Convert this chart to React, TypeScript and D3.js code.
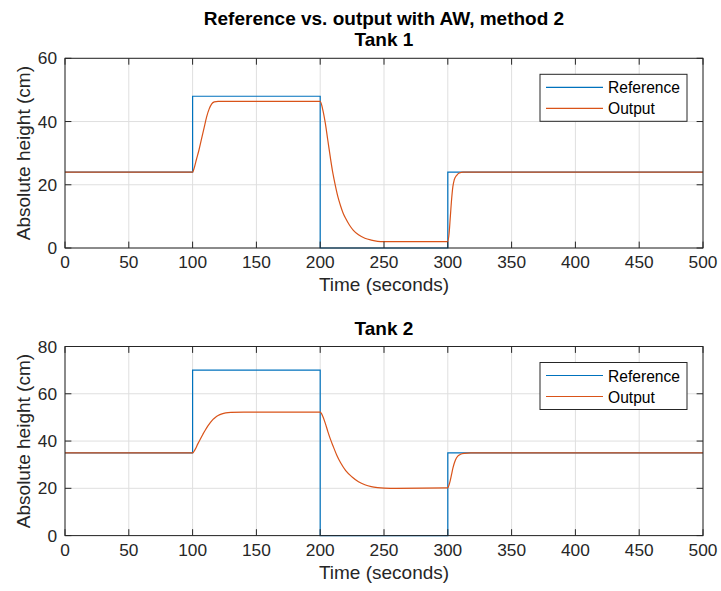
import React from "react";
import * as d3 from "d3";

const mainTitle = "Reference vs. output with AW, method 2";
const panelTitles = ["Tank 1", "Tank 2"];
const xLabel = "Time (seconds)";
const yLabel = "Absolute height (cm)";
const seriesNames = ["Reference", "Output"];
const seriesColors = ["#0072BD", "#D95319"];

const xTicks = [0, 50, 100, 150, 200, 250, 300, 350, 400, 450, 500];
const yTicks1 = [0, 20, 40, 60];
const yTicks2 = [0, 20, 40, 60, 80];

const refTimes = [0, 100, 100, 200, 200, 300, 300, 500];
const ref1Values = [24, 24, 48, 48, 0, 0, 24, 24];
const ref2Values = [35, 35, 70, 70, 0, 0, 35, 35];

const out1Times = [0, 100, 101, 103, 105, 107, 109, 111, 113, 115, 117, 120, 200, 202, 204, 206, 208, 210, 212, 214, 216, 218, 220, 223, 226, 230, 235, 240, 245, 250, 300, 301, 302, 303, 304, 305, 307, 309, 312, 500];
const out1Values = [24, 24, 25, 28, 31, 34.5, 38, 41.5, 44, 45.6, 46.2, 46.4, 46.4, 43.8, 39.5, 34, 28.5, 23.5, 19.5, 16, 13.3, 11, 9.3, 7.2, 5.6, 4.2, 3.1, 2.5, 2.1, 2, 2, 4.5, 10, 15.5, 19.5, 21.5, 23, 23.7, 24, 24];

const out2Times = [0, 100, 102, 104, 106, 108, 110, 112, 114, 116, 118, 120, 123, 126, 130, 140, 200, 202, 204, 206, 208, 210, 213, 216, 220, 225, 230, 235, 240, 245, 250, 260, 300, 301, 302, 303, 304, 305, 306, 308, 310, 313, 318, 500];
const out2Values = [35, 35, 36.5, 38.7, 40.8, 42.8, 44.7, 46.4, 47.9, 49.2, 50.1, 50.8, 51.5, 51.9, 52.1, 52.2, 52.2, 50.5, 47.5, 44, 40.8, 38, 34, 30.8, 27.5, 24.8, 22.8, 21.5, 20.7, 20.3, 20.1, 20, 20.2, 21.5, 23.5, 26, 28.5, 30.5, 32, 33.7, 34.4, 34.8, 35, 35];

const W = 721;
const H = 591;
const left = 65;
const right = 703;
const panels = [
  { top: 58.3, bottom: 248, yMax: 60, yTicks: yTicks1, ref: ref1Values, outT: out1Times, outV: out1Values, title: panelTitles[0] },
  { top: 346.5, bottom: 535.6, yMax: 80, yTicks: yTicks2, ref: ref2Values, outT: out2Times, outV: out2Values, title: panelTitles[1] },
];

const FONT = "'Liberation Sans', Arial, Helvetica, sans-serif";
const AX = "#262626";

function Panel({ p }: { p: typeof panels[number] }) {
  const x = d3.scaleLinear().domain([0, 500]).range([left, right]);
  const y = d3.scaleLinear().domain([0, p.yMax]).range([p.bottom, p.top]);
  const refLine = d3
    .line<number>()
    .x((_, i) => x(refTimes[i]))
    .y((d) => y(d));
  const outLine = d3
    .line<number>()
    .x((_, i) => x(p.outT[i]))
    .y((d) => y(d))
    .curve(d3.curveMonotoneX);
  const tl = 6.4;
  const legX = 540;
  const legY = p.top + 16;
  const midY = (p.top + p.bottom) / 2;
  return (
    <g>
      <text x={(left + right) / 2} y={p.top - 12} textAnchor="middle" fontWeight="bold" fontSize={19} fill="#000" fontFamily={FONT}>
        {p.title}
      </text>
      {xTicks.map((t) => (
        <line key={"gx" + t} x1={x(t)} x2={x(t)} y1={p.top} y2={p.bottom} stroke="#dfdfdf" strokeWidth={1} />
      ))}
      {p.yTicks.map((t) => (
        <line key={"gy" + t} x1={left} x2={right} y1={y(t)} y2={y(t)} stroke="#dfdfdf" strokeWidth={1} />
      ))}
      <path d={refLine(p.ref) || ""} fill="none" stroke={seriesColors[0]} strokeWidth={1.2} />
      <path d={outLine(p.outV) || ""} fill="none" stroke={seriesColors[1]} strokeWidth={1.2} />
      <rect x={left} y={p.top} width={right - left} height={p.bottom - p.top} fill="none" stroke={AX} strokeWidth={1} />
      {xTicks.map((t) => (
        <g key={"tx" + t}>
          <line x1={x(t)} x2={x(t)} y1={p.bottom} y2={p.bottom - tl} stroke={AX} />
          <line x1={x(t)} x2={x(t)} y1={p.top} y2={p.top + tl} stroke={AX} />
          <text x={x(t)} y={p.bottom + 20} textAnchor="middle" fontSize={17.3} fill={AX} fontFamily={FONT}>
            {t}
          </text>
        </g>
      ))}
      {p.yTicks.map((t) => (
        <g key={"ty" + t}>
          <line x1={left} x2={left + tl} y1={y(t)} y2={y(t)} stroke={AX} />
          <line x1={right} x2={right - tl} y1={y(t)} y2={y(t)} stroke={AX} />
          <text x={57} y={y(t) + 6} textAnchor="end" fontSize={17.3} fill={AX} fontFamily={FONT}>
            {t}
          </text>
        </g>
      ))}
      <text x={(left + right) / 2} y={p.bottom + 43} textAnchor="middle" fontSize={19} fill={AX} fontFamily={FONT}>
        {xLabel}
      </text>
      <text transform={`translate(30, ${midY}) rotate(-90)`} textAnchor="middle" fontSize={19} fill={AX} fontFamily={FONT}>
        {yLabel}
      </text>
      <rect x={legX} y={legY} width={147} height={47} fill="#fff" stroke={AX} strokeWidth={1} />
      {seriesNames.map((n, i) => (
        <g key={n}>
          <line x1={legX + 6} x2={legX + 63} y1={legY + 13 + i * 21} y2={legY + 13 + i * 21} stroke={seriesColors[i]} strokeWidth={1.2} />
          <text x={legX + 68} y={legY + 19 + i * 21} fontSize={15.6} fill="#000" fontFamily={FONT}>
            {n}
          </text>
        </g>
      ))}
    </g>
  );
}

export default function App() {
  return (
    <svg width={W} height={H} style={{ position: "absolute", left: 0, top: 0, background: "#fff" }}>
      <rect x={0} y={0} width={W} height={H} fill="#fff" />
      <text x={(left + right) / 2} y={25} textAnchor="middle" fontWeight="bold" fontSize={19} fill="#000" fontFamily={FONT}>
        {mainTitle}
      </text>
      {panels.map((p, i) => (
        <Panel key={i} p={p} />
      ))}
    </svg>
  );
}
